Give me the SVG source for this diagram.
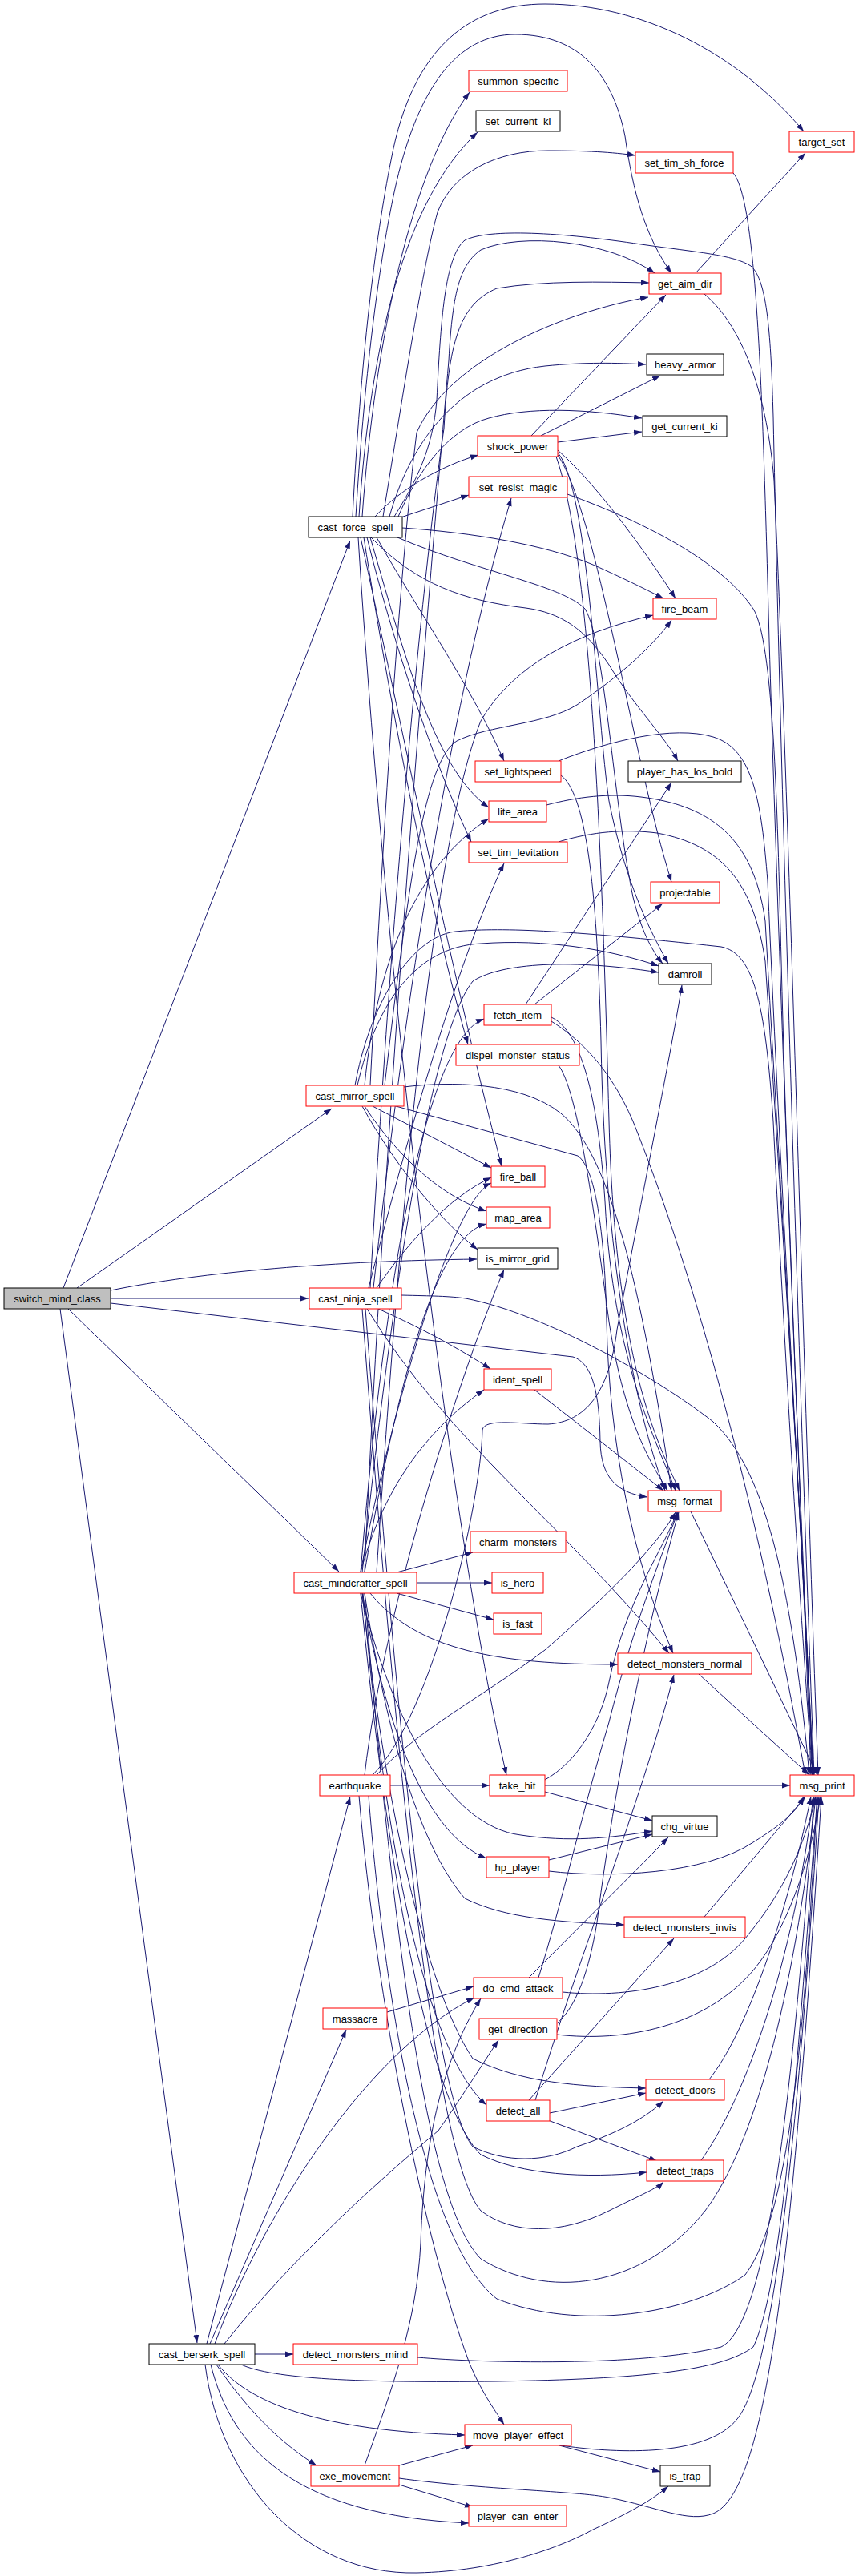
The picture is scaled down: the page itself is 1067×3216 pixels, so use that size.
<svg xmlns="http://www.w3.org/2000/svg" width="1067" height="3216" viewBox="0 0 1067 3216">
<defs>
<marker id="a" markerWidth="10" markerHeight="8" refX="10" refY="4" orient="auto" markerUnits="userSpaceOnUse"><path d="M0,0.5 L10,4 L0,7.5 z" fill="#191970"/></marker>
<style>
.e path{fill:none;stroke:#191970;stroke-width:1;marker-end:url(#a)}
.n rect{fill:#fff;stroke:#ff0000;stroke-width:1}
.n.k rect{stroke:#000}
.n.r rect{fill:#bfbfbf;stroke:#000}
.n text{font-family:"Liberation Sans",Arial,sans-serif;font-size:13px;text-anchor:middle;fill:#000}
</style>
</defs>
<rect width="1067" height="3216" fill="#fff"/>
<g id="edges" class="e">
<path d="M79,1608 L437,675"/>
<path d="M96,1608 L414,1384"/>
<path d="M138,1611 C250,1588 420,1574 595,1572"/>
<path d="M138,1621 L385,1621"/>
<path d="M138,1627 L715,1694 C740,1702 748,1740 749,1800 C750,1845 770,1864 808,1869"/>
<path d="M85,1634 L423,1962"/>
<path d="M75,1634 L246,2925"/>
<path d="M452,645 C468,420 515,210 586,115"/>
<path d="M448,645 C462,430 505,250 596,165"/>
<path d="M440,645 C450,450 468,300 488,200 C515,55 590,5 680,5 C800,5 920,65 1003,164"/>
<path d="M444,645 C456,450 475,320 492,240 C520,110 570,43 643,43 C725,43 765,95 780,170 C790,240 805,295 838,341"/>
<path d="M478,645 C505,480 528,330 546,265 C565,215 620,188 684,188 C730,188 765,190 793,194"/>
<path d="M492,645 C520,600 540,560 545,500 C550,400 555,320 580,300 C610,285 700,290 800,305 C870,315 915,318 937,332 C958,350 962,420 965,520 C975,1000 1000,1800 1016,2216"/>
<path d="M486,645 C510,560 565,470 680,457 C730,452 770,453 806,455"/>
<path d="M497,645 C520,590 560,535 610,522 C660,508 730,510 801,522"/>
<path d="M468,645 C500,610 550,582 597,568"/>
<path d="M500,646 L585,618"/>
<path d="M502,659 C590,665 680,680 740,705 C785,725 810,738 828,747"/>
<path d="M496,671 C600,715 700,730 730,760 C755,800 765,1000 790,1120 C800,1160 812,1185 827,1203"/>
<path d="M463,671 C520,730 580,750 656,759 C700,765 730,785 760,830 C790,880 830,920 846,950"/>
<path d="M470,671 C520,760 590,860 629,950"/>
<path d="M462,671 C500,800 540,960 610,1008"/>
<path d="M458,671 C490,800 540,950 588,1051"/>
<path d="M454,671 C490,900 540,1150 584,1304"/>
<path d="M450,671 C500,900 560,1200 626,1456"/>
<path d="M447,671 C480,1200 560,1900 632,2216"/>
<path d="M663,544 L831,368"/>
<path d="M675,544 L824,469"/>
<path d="M696,552 L801,539"/>
<path d="M696,562 C740,600 800,680 843,747"/>
<path d="M696,565 C735,610 745,900 760,1000 C780,1100 810,1160 834,1203"/>
<path d="M696,568 C745,640 790,950 838,1101"/>
<path d="M694,570 C740,700 752,1100 760,1400 C768,1700 820,1800 848,1861"/>
<path d="M868,341 L1005,191"/>
<path d="M879,367 C930,410 958,500 966,600 C985,1000 1005,1800 1021,2216"/>
<path d="M915,216 C945,250 952,500 960,800 C975,1300 1000,1900 1012,2216"/>
<path d="M708,617 C800,650 900,700 940,760 C965,800 970,1000 975,1200 C985,1600 1005,2000 1014,2216"/>
<path d="M466,1608 C500,1300 555,900 638,622"/>
<path d="M462,1355 C480,1000 500,700 520,540 C560,450 700,390 809,371"/>
<path d="M480,1355 C510,1100 530,950 570,925 C610,905 680,905 720,880 C780,840 820,800 838,774"/>
<path d="M446,1355 C470,1250 520,1182 600,1178 C680,1172 760,1185 822,1206"/>
<path d="M443,1355 C460,1260 510,1170 568,1163 C620,1158 700,1160 900,1182 C940,1190 955,1250 965,1400 C985,1800 1005,2100 1014,2216"/>
<path d="M455,1355 C470,1200 520,1080 610,1022"/>
<path d="M465,1381 L613,1458"/>
<path d="M455,1381 C500,1450 555,1495 607,1512"/>
<path d="M452,1381 C490,1450 545,1520 596,1560"/>
<path d="M504,1357 C560,1350 650,1350 700,1390 C760,1440 800,1600 838,1861"/>
<path d="M494,1381 L721,1443 C745,1460 755,1550 757,1650 C760,1800 790,1950 840,2064"/>
<path d="M462,1608 C490,1100 530,700 554,535 C560,430 572,380 620,360 C680,350 750,352 810,353"/>
<path d="M472,1634 C530,1660 575,1685 612,1709"/>
<path d="M501,1617 C540,1618 560,1618 581,1621 C680,1640 820,1720 890,1775 C960,1840 990,2000 1010,2216"/>
<path d="M458,1634 C560,1800 700,1900 835,2064"/>
<path d="M470,1608 C510,1550 560,1495 613,1470"/>
<path d="M460,1608 C500,1450 570,1200 629,1078"/>
<path d="M456,1634 C500,2200 540,2620 590,2680 C630,2700 680,2700 720,2680 C780,2660 810,2640 828,2623"/>
<path d="M452,1634 C495,2200 540,2690 600,2760 C640,2790 700,2790 760,2760 C800,2740 820,2732 828,2724"/>
<path d="M455,1963 C480,1400 530,800 560,450 C565,360 575,330 600,312 C650,290 760,300 817,341"/>
<path d="M470,1963 C500,1500 540,1050 600,900 C640,830 720,790 815,768"/>
<path d="M452,1963 C480,1700 530,1300 590,1225 C620,1205 700,1195 822,1214"/>
<path d="M450,1963 C480,1600 530,1300 604,1272"/>
<path d="M450,1963 C480,1800 560,1500 613,1477"/>
<path d="M455,1963 C500,1700 550,1540 607,1528"/>
<path d="M450,1963 C480,1850 540,1780 604,1735"/>
<path d="M495,1963 L590,1938"/>
<path d="M520,1976 L614,1976"/>
<path d="M495,1989 L616,2022"/>
<path d="M462,1989 C520,2060 620,2078 771,2078"/>
<path d="M455,1989 C480,2150 520,2300 580,2370 C630,2395 700,2400 779,2403"/>
<path d="M452,1989 C480,2150 530,2290 607,2320"/>
<path d="M450,1989 C490,2150 560,2280 650,2291 C710,2300 760,2295 814,2286"/>
<path d="M452,1989 C480,2250 530,2480 590,2570 C650,2600 720,2605 806,2607"/>
<path d="M450,1989 C480,2300 530,2620 600,2690 C650,2715 730,2720 807,2712"/>
<path d="M453,1989 C480,2300 530,2560 607,2628"/>
<path d="M455,1989 C490,2400 530,2750 600,2820 C680,2870 800,2860 880,2760 C940,2680 990,2500 1018,2243"/>
<path d="M667,1254 L827,1128"/>
<path d="M656,1254 L838,977"/>
<path d="M688,1270 C720,1285 745,1350 755,1500 C765,1700 820,1800 843,1861"/>
<path d="M688,1275 C720,1295 760,1330 790,1400 C850,1550 930,1800 1005,2216"/>
<path d="M697,1330 C720,1360 740,1500 760,1650 C780,1780 815,1830 833,1861"/>
<path d="M697,950 C760,925 840,905 890,920 C940,935 950,1000 958,1100 C975,1500 1000,1900 1014,2216"/>
<path d="M682,1005 C720,995 760,990 800,995 C880,1005 940,1040 955,1150 C975,1500 1000,1900 1015,2216"/>
<path d="M697,1051 C740,1038 780,1035 820,1040 C900,1055 940,1100 955,1200 C975,1500 1000,1900 1015,2216"/>
<path d="M700,968 C730,990 745,1100 750,1300 C755,1600 800,1780 830,1861"/>
<path d="M667,1735 L828,1861"/>
<path d="M862,1887 L1020,2216"/>
<path d="M872,2090 L1010,2216"/>
<path d="M487,2229 L611,2229"/>
<path d="M465,2216 C540,2140 600,1880 602,1785 C605,1770 650,1778 684,1778 C730,1775 760,1740 770,1660 C800,1500 840,1300 851,1230"/>
<path d="M470,2216 C520,2160 600,2120 680,2060 C760,1990 820,1930 843,1888"/>
<path d="M455,2216 C480,2000 580,1700 629,1585"/>
<path d="M448,2242 C470,2500 530,2800 585,2948 C600,2985 615,3005 629,3027"/>
<path d="M460,2242 C480,2500 530,2800 620,2870 C720,2910 860,2890 930,2840 C990,2760 1005,2500 1020,2243"/>
<path d="M680,2229 L986,2229"/>
<path d="M680,2237 L814,2273"/>
<path d="M680,2222 C720,2200 750,2150 760,2100 C780,2000 830,1930 845,1888"/>
<path d="M685,2322 L814,2290"/>
<path d="M685,2336 C760,2345 880,2340 940,2300 C980,2275 995,2260 1003,2243"/>
<path d="M660,2469 L834,2294"/>
<path d="M672,2469 C700,2380 730,2250 760,2150 C790,2030 830,1930 846,1888"/>
<path d="M702,2487 C780,2495 880,2480 930,2420 C980,2360 1005,2300 1018,2243"/>
<path d="M695,2540 C780,2550 880,2530 940,2460 C990,2400 1015,2300 1024,2243"/>
<path d="M694,2527 C720,2505 735,2460 745,2400 C770,2200 820,1980 847,1888"/>
<path d="M686,2638 L806,2613"/>
<path d="M684,2647 L820,2698"/>
<path d="M660,2622 L841,2420"/>
<path d="M668,2622 C720,2450 800,2250 841,2091"/>
<path d="M885,2596 C930,2540 980,2400 1012,2243"/>
<path d="M875,2697 C930,2620 990,2450 1015,2243"/>
<path d="M879,2393 L1005,2243"/>
<path d="M483,2512 L591,2480"/>
<path d="M318,2939 L366,2939"/>
<path d="M258,2926 L437,2243"/>
<path d="M262,2926 L432,2534"/>
<path d="M268,2926 C330,2760 460,2560 592,2494"/>
<path d="M280,2926 C380,2800 500,2700 547,2660 C575,2620 600,2580 622,2547"/>
<path d="M301,2952 C340,2970 450,2975 620,2973 C800,2970 900,2960 940,2930 C980,2850 1000,2500 1020,2243"/>
<path d="M272,2952 C310,3000 400,3035 580,3040"/>
<path d="M270,2952 C310,3010 350,3050 395,3078"/>
<path d="M263,2952 C290,3060 370,3140 585,3150"/>
<path d="M256,2952 C275,3100 380,3215 520,3212 C620,3210 700,3180 740,3158 C790,3135 815,3120 834,3104"/>
<path d="M498,3078 L590,3053"/>
<path d="M498,3102 L590,3130"/>
<path d="M498,3094 C600,3108 720,3110 760,3118 C820,3130 860,3150 890,3138 C960,3110 990,2800 1025,2243"/>
<path d="M455,3078 C490,2980 520,2900 525,2800 C530,2650 560,2560 600,2495"/>
<path d="M698,3053 L824,3086"/>
<path d="M700,3053 C760,3062 880,3070 920,3020 C970,2960 1000,2600 1022,2243"/>
<path d="M521,2943 C600,2950 800,2955 900,2930 C960,2900 990,2600 1016,2243"/>
</g>
<g id="n_summon_specific" class="n"><rect x="585" y="88" width="123" height="26"/><text x="646.5" y="105.5">summon_specific</text></g>
<g id="n_set_current_ki" class="n k"><rect x="594" y="138" width="105" height="26"/><text x="646.5" y="155.5">set_current_ki</text></g>
<g id="n_target_set" class="n"><rect x="985" y="164" width="81" height="26"/><text x="1025.5" y="181.5">target_set</text></g>
<g id="n_set_tim_sh_force" class="n"><rect x="793" y="190" width="122" height="26"/><text x="854" y="207.5">set_tim_sh_force</text></g>
<g id="n_get_aim_dir" class="n"><rect x="810" y="341" width="90" height="26"/><text x="855" y="358.5">get_aim_dir</text></g>
<g id="n_heavy_armor" class="n k"><rect x="807" y="442" width="96" height="26"/><text x="855" y="459.5">heavy_armor</text></g>
<g id="n_get_current_ki" class="n k"><rect x="802" y="519" width="105" height="26"/><text x="854.5" y="536.5">get_current_ki</text></g>
<g id="n_shock_power" class="n"><rect x="596" y="544" width="100" height="26"/><text x="646" y="561.5">shock_power</text></g>
<g id="n_set_resist_magic" class="n"><rect x="585" y="595" width="123" height="26"/><text x="646.5" y="612.5">set_resist_magic</text></g>
<g id="n_cast_force_spell" class="n k"><rect x="385" y="645" width="117" height="26"/><text x="443.5" y="662.5">cast_force_spell</text></g>
<g id="n_fire_beam" class="n"><rect x="815" y="747" width="79" height="26"/><text x="854.5" y="764.5">fire_beam</text></g>
<g id="n_set_lightspeed" class="n"><rect x="593" y="950" width="107" height="26"/><text x="646.5" y="967.5">set_lightspeed</text></g>
<g id="n_player_has_los_bold" class="n k"><rect x="784" y="950" width="141" height="26"/><text x="854.5" y="967.5">player_has_los_bold</text></g>
<g id="n_lite_area" class="n"><rect x="610" y="1000" width="72" height="26"/><text x="646" y="1017.5">lite_area</text></g>
<g id="n_set_tim_levitation" class="n"><rect x="585" y="1051" width="123" height="26"/><text x="646.5" y="1068.5">set_tim_levitation</text></g>
<g id="n_projectable" class="n"><rect x="812" y="1101" width="86" height="26"/><text x="855" y="1118.5">projectable</text></g>
<g id="n_damroll" class="n k"><rect x="822" y="1203" width="66" height="26"/><text x="855" y="1220.5">damroll</text></g>
<g id="n_fetch_item" class="n"><rect x="604" y="1254" width="84" height="26"/><text x="646" y="1271.5">fetch_item</text></g>
<g id="n_dispel_monster_status" class="n"><rect x="569" y="1304" width="154" height="26"/><text x="646" y="1321.5">dispel_monster_status</text></g>
<g id="n_cast_mirror_spell" class="n"><rect x="382" y="1355" width="122" height="26"/><text x="443" y="1372.5">cast_mirror_spell</text></g>
<g id="n_fire_ball" class="n"><rect x="613" y="1456" width="67" height="26"/><text x="646.5" y="1473.5">fire_ball</text></g>
<g id="n_map_area" class="n"><rect x="607" y="1507" width="79" height="26"/><text x="646.5" y="1524.5">map_area</text></g>
<g id="n_is_mirror_grid" class="n k"><rect x="596" y="1558" width="100" height="26"/><text x="646" y="1575.5">is_mirror_grid</text></g>
<g id="n_switch_mind_class" class="n r"><rect x="5" y="1608" width="133" height="26"/><text x="71.5" y="1625.5">switch_mind_class</text></g>
<g id="n_cast_ninja_spell" class="n"><rect x="386" y="1608" width="115" height="26"/><text x="443.5" y="1625.5">cast_ninja_spell</text></g>
<g id="n_ident_spell" class="n"><rect x="604" y="1709" width="84" height="26"/><text x="646" y="1726.5">ident_spell</text></g>
<g id="n_msg_format" class="n"><rect x="809" y="1861" width="91" height="26"/><text x="854.5" y="1878.5">msg_format</text></g>
<g id="n_charm_monsters" class="n"><rect x="587" y="1912" width="119" height="26"/><text x="646.5" y="1929.5">charm_monsters</text></g>
<g id="n_cast_mindcrafter_spell" class="n"><rect x="367" y="1963" width="153" height="26"/><text x="443.5" y="1980.5">cast_mindcrafter_spell</text></g>
<g id="n_is_hero" class="n"><rect x="614" y="1963" width="64" height="26"/><text x="646" y="1980.5">is_hero</text></g>
<g id="n_is_fast" class="n"><rect x="616" y="2014" width="60" height="26"/><text x="646" y="2031.5">is_fast</text></g>
<g id="n_detect_monsters_normal" class="n"><rect x="771" y="2064" width="167" height="26"/><text x="854.5" y="2081.5">detect_monsters_normal</text></g>
<g id="n_earthquake" class="n"><rect x="399" y="2216" width="88" height="26"/><text x="443" y="2233.5">earthquake</text></g>
<g id="n_take_hit" class="n"><rect x="611" y="2216" width="69" height="26"/><text x="645.5" y="2233.5">take_hit</text></g>
<g id="n_msg_print" class="n"><rect x="986" y="2216" width="80" height="26"/><text x="1026" y="2233.5">msg_print</text></g>
<g id="n_chg_virtue" class="n k"><rect x="814" y="2267" width="81" height="26"/><text x="854.5" y="2284.5">chg_virtue</text></g>
<g id="n_hp_player" class="n"><rect x="607" y="2318" width="78" height="26"/><text x="646" y="2335.5">hp_player</text></g>
<g id="n_detect_monsters_invis" class="n"><rect x="779" y="2393" width="151" height="26"/><text x="854.5" y="2410.5">detect_monsters_invis</text></g>
<g id="n_do_cmd_attack" class="n"><rect x="591" y="2469" width="111" height="26"/><text x="646.5" y="2486.5">do_cmd_attack</text></g>
<g id="n_massacre" class="n"><rect x="403" y="2507" width="80" height="26"/><text x="443" y="2524.5">massacre</text></g>
<g id="n_get_direction" class="n"><rect x="598" y="2520" width="97" height="26"/><text x="646.5" y="2537.5">get_direction</text></g>
<g id="n_detect_doors" class="n"><rect x="806" y="2596" width="98" height="26"/><text x="855" y="2613.5">detect_doors</text></g>
<g id="n_detect_all" class="n"><rect x="607" y="2622" width="79" height="26"/><text x="646.5" y="2639.5">detect_all</text></g>
<g id="n_detect_traps" class="n"><rect x="807" y="2697" width="96" height="26"/><text x="855" y="2714.5">detect_traps</text></g>
<g id="n_cast_berserk_spell" class="n k"><rect x="186" y="2926" width="132" height="26"/><text x="252" y="2943.5">cast_berserk_spell</text></g>
<g id="n_detect_monsters_mind" class="n"><rect x="366" y="2926" width="155" height="26"/><text x="443.5" y="2943.5">detect_monsters_mind</text></g>
<g id="n_move_player_effect" class="n"><rect x="580" y="3027" width="133" height="26"/><text x="646.5" y="3044.5">move_player_effect</text></g>
<g id="n_exe_movement" class="n"><rect x="388" y="3078" width="110" height="26"/><text x="443" y="3095.5">exe_movement</text></g>
<g id="n_is_trap" class="n k"><rect x="824" y="3078" width="62" height="26"/><text x="855" y="3095.5">is_trap</text></g>
<g id="n_player_can_enter" class="n"><rect x="585" y="3128" width="122" height="26"/><text x="646" y="3145.5">player_can_enter</text></g>
</svg>
